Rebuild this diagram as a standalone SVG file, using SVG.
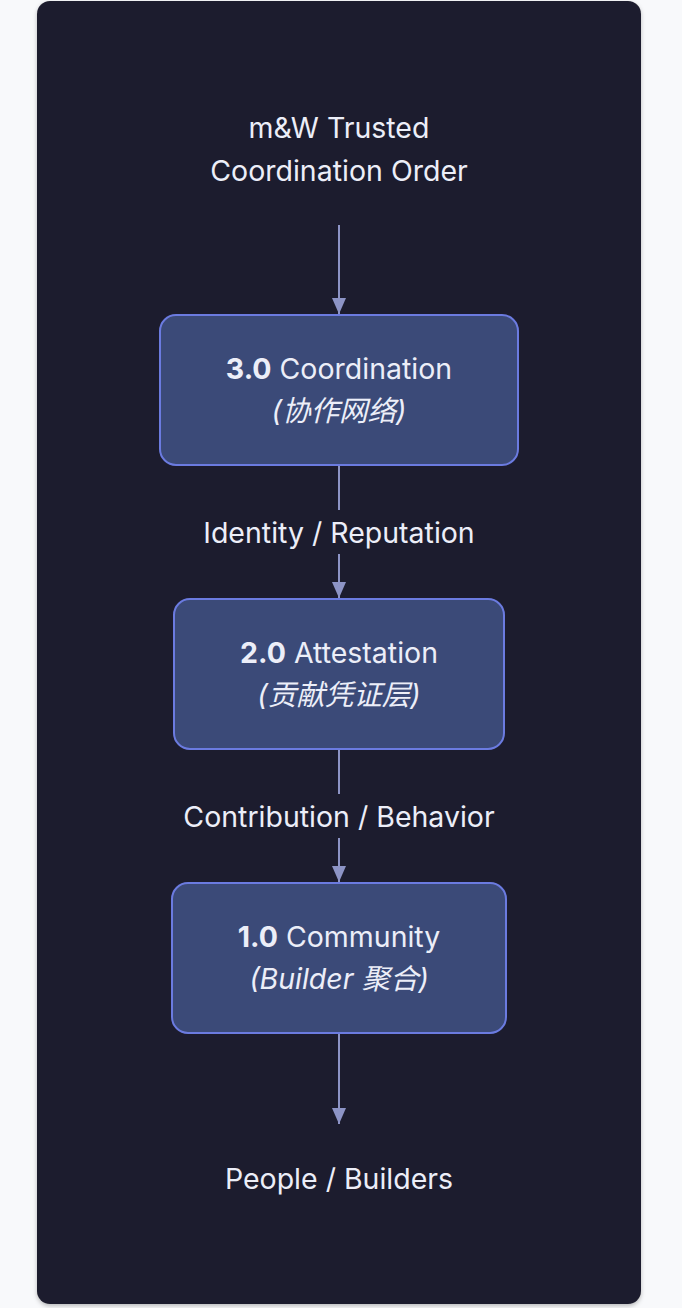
<svg xmlns="http://www.w3.org/2000/svg" width="682" height="1308" viewBox="0 0 682 1308">
<defs>
<style>
.t{font-family:Inter,"Noto Sans","Noto Sans CJK SC",sans-serif;font-size:28.5px;fill:#eceef8;text-anchor:middle}
.b{font-weight:700}
.i{font-style:italic}
.node{fill:#3b4a78;stroke:#6b7be0;stroke-width:2}
.edge{stroke:#8d94c6;stroke-width:2;fill:none}
</style>
<marker id="arr" viewBox="0 0 16 14" refX="16" refY="7" markerWidth="16" markerHeight="14" markerUnits="userSpaceOnUse" orient="auto">
<path d="M0,0 L16,7 L0,14 Z" fill="#8d94c6"/>
</marker>
<filter id="sh" x="-5%" y="-5%" width="110%" height="110%">
<feDropShadow dx="0" dy="2" stdDeviation="2" flood-color="#000" flood-opacity="0.25"/>
</filter>
</defs>
<rect width="682" height="1308" fill="#f8f9fb"/>
<rect x="37" y="1" width="604" height="1303" rx="13" fill="#1f1f2e" filter="url(#sh)"/>
<g id="connectors">
<line class="edge" x1="339" y1="225" x2="339" y2="314" marker-end="url(#arr)"/>
<line class="edge" x1="339" y1="466" x2="339" y2="510"/>
<line class="edge" x1="339" y1="554" x2="339" y2="598" marker-end="url(#arr)"/>
<line class="edge" x1="339" y1="750" x2="339" y2="794"/>
<line class="edge" x1="339" y1="838" x2="339" y2="882" marker-end="url(#arr)"/>
<line class="edge" x1="339" y1="1034" x2="339" y2="1124" marker-end="url(#arr)"/>
<text class="t" x="339" y="543">Identity / Reputation</text>
<text class="t" x="339" y="827">Contribution / Behavior</text>
</g>
<g id="top">
<text class="t" x="339" y="138">m&amp;W Trusted</text>
<text class="t" x="339" y="181">Coordination Order</text>
</g>
<g id="n3">
<rect class="node" x="160" y="315" width="358" height="150" rx="16"/>
<text class="t" x="339" y="379"><tspan class="b">3.0</tspan> Coordination</text>
<text class="t i" x="339" y="421">(协作网络)</text>
</g>
<g id="n2">
<rect class="node" x="174" y="599" width="330" height="150" rx="16"/>
<text class="t" x="339" y="663"><tspan class="b">2.0</tspan> Attestation</text>
<text class="t i" x="339" y="705">(贡献凭证层)</text>
</g>
<g id="n1">
<rect class="node" x="172" y="883" width="334" height="150" rx="16"/>
<text class="t" x="339" y="947"><tspan class="b">1.0</tspan> Community</text>
<text class="t i" x="339" y="989">(Builder 聚合)</text>
</g>
<g id="bottom">
<text class="t" x="339" y="1189">People / Builders</text>
</g>
</svg>
